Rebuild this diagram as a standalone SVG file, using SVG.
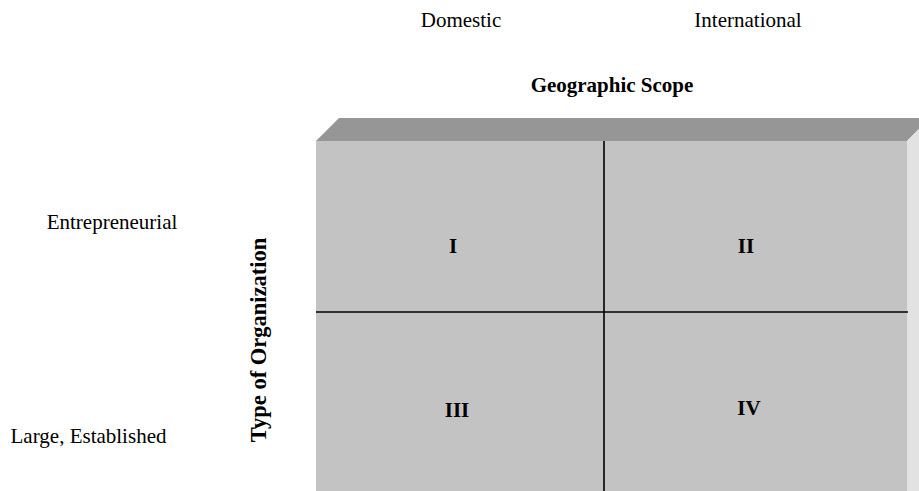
<svg xmlns="http://www.w3.org/2000/svg" width="919" height="491" viewBox="0 0 919 491">
<style>
text{font-family:"Liberation Serif","Times New Roman",serif;font-size:21px;fill:#000}
.b{font-weight:bold}
.n{font-weight:bold;font-size:21px}
.v{font-weight:bold;font-size:22.5px}
.ln{stroke:#000;stroke-width:1.6;fill:none}
</style>
<rect width="919" height="491" fill="#fff"/>
<g id="box">
<polygon points="316,141 339,118 930,118 907,141" fill="#969696"/>
<polygon points="907,141 930,118 930,491 907,491" fill="#e2e2e2"/>
<rect x="316" y="141" width="591" height="360" fill="#c3c3c3"/>
</g>
<g id="connectors">
<line class="ln" x1="604" y1="141" x2="604" y2="491"/>
<line class="ln" x1="316" y1="312" x2="908" y2="312"/>
</g>
<g id="labels">
<text x="461" y="27" text-anchor="middle">Domestic</text>
<text x="748" y="27" text-anchor="middle">International</text>
<text class="b" x="612" y="92" text-anchor="middle">Geographic Scope</text>
<text x="112" y="229" text-anchor="middle">Entrepreneurial</text>
<text x="88.5" y="443" text-anchor="middle">Large, Established</text>
<text class="v" transform="translate(266,340) rotate(-90)" text-anchor="middle">Type of Organization</text>
</g>
<g id="q1"><text class="n" x="453" y="253" text-anchor="middle">I</text></g>
<g id="q2"><text class="n" x="746" y="253" text-anchor="middle">II</text></g>
<g id="q3"><text class="n" x="457" y="417" text-anchor="middle">III</text></g>
<g id="q4"><text class="n" x="749" y="415" text-anchor="middle">IV</text></g>
</svg>
